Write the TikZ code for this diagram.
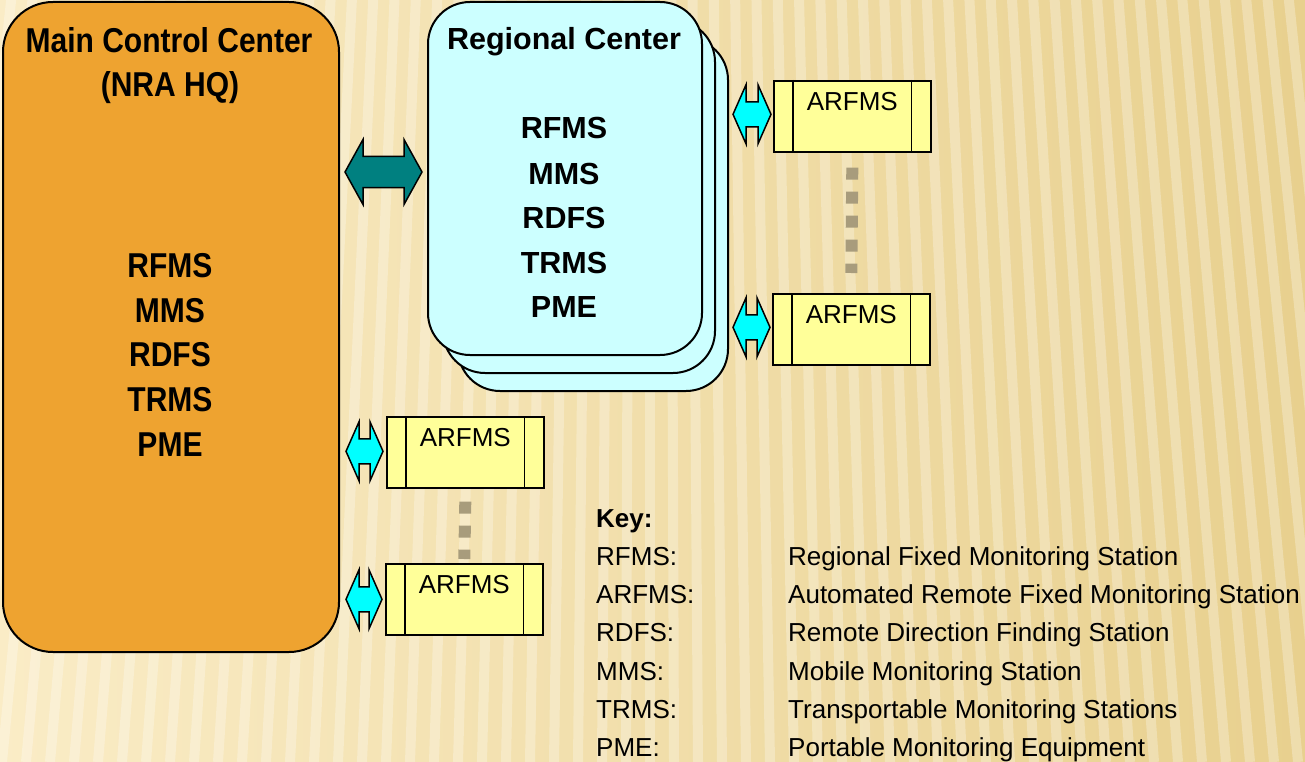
\documentclass[tikz,border=0pt]{standalone}
\usepackage{fontspec}
\setmainfont{Liberation Sans}
\newfontfamily\condfont[FakeStretch=0.87]{Liberation Sans}
\usetikzlibrary{calc}
\definecolor{bgA}{RGB}{250,236,198}
\definecolor{bgB}{RGB}{232,208,142}
\definecolor{mainfill}{RGB}{238,163,48}
\definecolor{regfill}{RGB}{204,255,255}
\definecolor{boxfill}{RGB}{255,255,153}
\definecolor{tealarrow}{RGB}{0,128,128}
\definecolor{cyanarrow}{RGB}{0,255,255}
\definecolor{dotcol}{RGB}{168,156,124}
\newcommand{\blockarrow}[6]{%
  \path[#6] let \p1=(#1), \p2=(#2) in
    (\x1,\y1) -- (\x1+#5,\y1+#4) -- (\x1+#5,\y1+#3) -- (\x2-#5,\y1+#3)
    -- (\x2-#5,\y1+#4) -- (\x2,\y1) -- (\x2-#5,\y1-#4) -- (\x2-#5,\y1-#3)
    -- (\x1+#5,\y1-#3) -- (\x1+#5,\y1-#4) -- cycle;}
\tikzset{
  mainbox/.style={draw=black, line width=2pt, fill=mainfill, rounded corners=50pt, inner sep=0pt, anchor=north west},
  regbox/.style={draw=black, line width=2pt, fill=regfill, rounded corners=42pt, inner sep=0pt, anchor=north west},
  arfms/.style={draw=black, line width=1.6pt, fill=boxfill, minimum width=157pt, minimum height=71pt, inner sep=0pt, anchor=north west},
  arfmstext/.style={anchor=base, inner sep=0pt, font=\fontsize{26}{30}\selectfont},
  maintext/.style={anchor=base, inner sep=0pt, font=\condfont\bfseries\fontsize{34.5}{40}\selectfont},
  regtext/.style={anchor=base, inner sep=0pt, font=\bfseries\fontsize{30.5}{36}\selectfont},
  keytext/.style={anchor=base west, inner sep=0pt, font=\fontsize{26}{30}\selectfont},
  tealstyle/.style={draw=black, line width=1.5pt, fill=tealarrow, line join=miter},
  cyanstyle/.style={draw=black, line width=1.5pt, fill=cyanarrow, line join=miter},
  dotline/.style={draw=dotcol, line width=12pt, dash pattern=on 12pt off 12pt},
  stripe/.style={draw=white, opacity=0.28, line width=10pt}
}
\begin{document}
\begin{tikzpicture}[x=1pt,y=-1pt]
\useasboundingbox (0,0) rectangle (1305,762);
% background
\shade[left color=bgA, right color=bgB] (0,0) rectangle (1305,762);
\begin{scope}
  \clip (0,0) rectangle (1305,762);
  \foreach \i in {-32,...,32} \draw[stripe] (650,-6000) -- ({650+\i*24},762);
\end{scope}

% main control center
\node[mainbox, minimum width=336pt, minimum height=650pt] (main) at (2,1) {};
\node[maintext] (mt1) at (169,53) {Main Control Center};
\node[maintext] (mt2) at (170,97) {(NRA HQ)};
\node[maintext] (m1) at (170,277) {RFMS};
\node[maintext] (m2) at (170,322) {MMS};
\node[maintext] (m3) at (170,366) {RDFS};
\node[maintext] (m4) at (170,411) {TRMS};
\node[maintext] (m5) at (170,456) {PME};

% regional center (stacked)
\node[regbox, minimum width=270pt, minimum height=353pt] (reg3) at (457,37) {};
\node[regbox, minimum width=272pt, minimum height=353pt] (reg2) at (442,19) {};
\node[regbox, minimum width=274pt, minimum height=353pt] (reg1) at (427,1) {};
\node[regtext] (rt) at (564,50) {Regional Center};
\node[regtext] (r1) at (564,139) {RFMS};
\node[regtext] (r2) at (564,184) {MMS};
\node[regtext] (r3) at (564,228) {RDFS};
\node[regtext] (r4) at (564,273) {TRMS};
\node[regtext] (r5) at (564,317) {PME};

% ARFMS boxes
\node[arfms] (rb1) at (773,80) {};
\node[arfms] (rb2) at (772,293) {};
\node[arfms] (lb1) at (386,416) {};
\node[arfms] (lb2) at (385,563) {};
\foreach \b in {rb1,rb2,lb1,lb2} {
  \draw[line width=1.6pt] ($(\b.north west)+(20,0)$) -- ($(\b.south west)+(20,0)$);
  \draw[line width=1.6pt] ($(\b.north east)+(-20,0)$) -- ($(\b.south east)+(-20,0)$);
  \node[arfmstext] at ($(\b.north)+(0,30.5)$) {ARFMS};
}

% dotted links
\draw[dotline] ($(rb1.south)+(0,15)$) -- ($(rb2.north)+(0,-20)$);
\draw[dotline] ($(lb1.south)+(0,13)$) -- ($(lb2.north)+(0,-4)$);

% teal double arrow
\coordinate (tA) at ($(main.north east)+(5,171)$);
\coordinate (tB) at ($(reg1.north west)+(-5,170)$);
\blockarrow{tA}{tB}{15.5pt}{32.5pt}{18pt}{tealstyle}

% cyan double arrows
\coordinate (c1a) at ($(reg3.east |- rb1.west)+(4,-2)$);
\coordinate (c1b) at ($(rb1.west)+(-2,-2)$);
\blockarrow{c1a}{c1b}{12.5pt}{29.5pt}{13pt}{cyanstyle}
\coordinate (c2a) at ($(reg3.east |- rb2.west)+(4,-2)$);
\coordinate (c2b) at ($(rb2.west)+(-2,-2)$);
\blockarrow{c2a}{c2b}{12.5pt}{29.5pt}{13pt}{cyanstyle}
\coordinate (c3a) at ($(main.east |- lb1.west)+(6,-1)$);
\coordinate (c3b) at ($(lb1.west)+(-3,-1)$);
\blockarrow{c3a}{c3b}{12.5pt}{29.5pt}{13pt}{cyanstyle}
\coordinate (c4a) at ($(main.east |- lb2.west)+(6,0)$);
\coordinate (c4b) at ($(lb2.west)+(-3,0)$);
\blockarrow{c4a}{c4b}{12.5pt}{29.5pt}{13pt}{cyanstyle}

% key
\node[keytext, font=\bfseries\fontsize{26}{30}\selectfont] (key) at (596,527) {Key:};
\foreach \k/\lab/\desc [count=\n from 1] in {
  1/RFMS:/Regional Fixed Monitoring Station,
  2/ARFMS:/Automated Remote Fixed Monitoring Station,
  3/RDFS:/Remote Direction Finding Station,
  4/MMS:/Mobile Monitoring Station,
  5/TRMS:/Transportable Monitoring Stations,
  6/PME:/Portable Monitoring Equipment} {
  \node[keytext] (kl\n) at (596,{527+\n*38.3}) {\lab};
  \node[keytext] (kd\n) at (788,{527+\n*38.3}) {\desc};
}
\end{tikzpicture}
\end{document}
